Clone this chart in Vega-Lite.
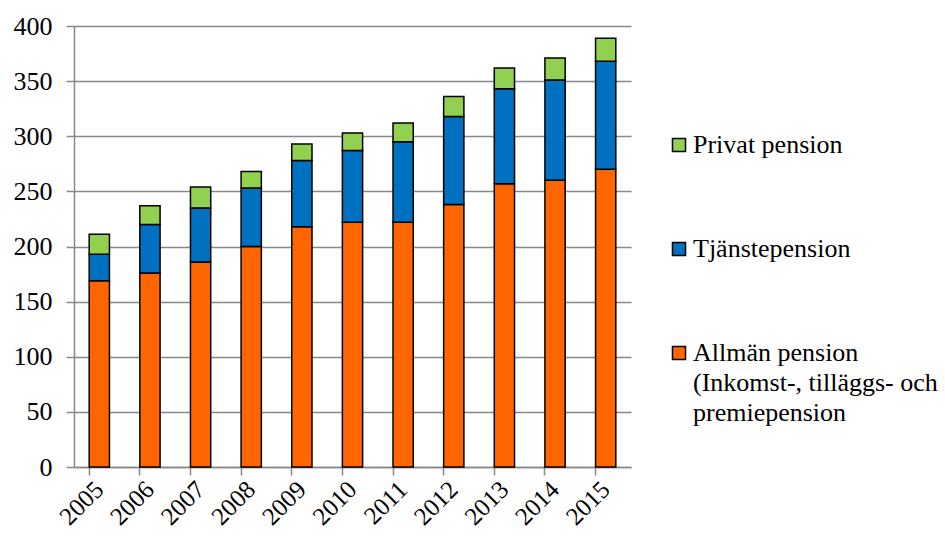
{
  "$schema": "https://vega.github.io/schema/vega-lite/v6.json",
  "width": 557,
  "height": 441,
  "autosize": "none",
  "padding": {"left": 74, "top": 26, "right": 314, "bottom": 69},
  "background": "white",
  "data": {
    "values": [
      {"year": "2005", "serie": "Allmän pension", "value": 169},
      {"year": "2005", "serie": "Tjänstepension", "value": 24},
      {"year": "2005", "serie": "Privat pension", "value": 18},
      {"year": "2006", "serie": "Allmän pension", "value": 176},
      {"year": "2006", "serie": "Tjänstepension", "value": 44},
      {"year": "2006", "serie": "Privat pension", "value": 17},
      {"year": "2007", "serie": "Allmän pension", "value": 186},
      {"year": "2007", "serie": "Tjänstepension", "value": 49},
      {"year": "2007", "serie": "Privat pension", "value": 19},
      {"year": "2008", "serie": "Allmän pension", "value": 200},
      {"year": "2008", "serie": "Tjänstepension", "value": 53},
      {"year": "2008", "serie": "Privat pension", "value": 15},
      {"year": "2009", "serie": "Allmän pension", "value": 218},
      {"year": "2009", "serie": "Tjänstepension", "value": 60},
      {"year": "2009", "serie": "Privat pension", "value": 15},
      {"year": "2010", "serie": "Allmän pension", "value": 222},
      {"year": "2010", "serie": "Tjänstepension", "value": 65},
      {"year": "2010", "serie": "Privat pension", "value": 16},
      {"year": "2011", "serie": "Allmän pension", "value": 222},
      {"year": "2011", "serie": "Tjänstepension", "value": 73},
      {"year": "2011", "serie": "Privat pension", "value": 17},
      {"year": "2012", "serie": "Allmän pension", "value": 238},
      {"year": "2012", "serie": "Tjänstepension", "value": 80},
      {"year": "2012", "serie": "Privat pension", "value": 18},
      {"year": "2013", "serie": "Allmän pension", "value": 257},
      {"year": "2013", "serie": "Tjänstepension", "value": 86},
      {"year": "2013", "serie": "Privat pension", "value": 19},
      {"year": "2014", "serie": "Allmän pension", "value": 260},
      {"year": "2014", "serie": "Tjänstepension", "value": 91},
      {"year": "2014", "serie": "Privat pension", "value": 20},
      {"year": "2015", "serie": "Allmän pension", "value": 270},
      {"year": "2015", "serie": "Tjänstepension", "value": 98},
      {"year": "2015", "serie": "Privat pension", "value": 21}
    ]
  },
  "transform": [
    {"calculate": "indexof(['Allmän pension','Tjänstepension','Privat pension'], datum.serie)", "as": "stackOrder"}
  ],
  "mark": {"type": "bar", "stroke": "black", "strokeWidth": 1.5},
  "encoding": {
    "x": {
      "field": "year",
      "type": "nominal",
      "scale": {"paddingInner": 0.6, "paddingOuter": 0.3},
      "axis": {
        "title": null,
        "labelFont": "Liberation Serif",
        "labelFontSize": 25,
        "labelColor": "black",
        "labelAngle": -45,
        "labelAlign": "right",
        "labelBaseline": "middle",
        "labelPadding": 10,
        "bandPosition": 0,
        "ticks": true,
        "tickSize": 8,
        "tickColor": "#888888",
        "tickWidth": 1.5,
        "domainColor": "#888888",
        "domainWidth": 1.5,
        "grid": false
      }
    },
    "y": {
      "field": "value",
      "type": "quantitative",
      "stack": "zero",
      "scale": {"domain": [0, 400], "nice": false},
      "axis": {
        "title": null,
        "labelFont": "Liberation Serif",
        "labelFontSize": 26,
        "labelColor": "black",
        "values": [0, 50, 100, 150, 200, 250, 300, 350, 400],
        "tickSize": 8,
        "tickColor": "#888888",
        "tickWidth": 1.5,
        "domainColor": "#888888",
        "domainWidth": 1.5,
        "gridColor": "#888888",
        "gridWidth": 1.5,
        "labelPadding": 14
      }
    },
    "color": {
      "field": "serie",
      "type": "nominal",
      "scale": {
        "domain": ["Privat pension", "Tjänstepension", "Allmän pension"],
        "range": ["#92D050", "#0070C0", "#FF6600"]
      },
      "legend": {
        "title": null,
        "orient": "none",
        "legendX": 592,
        "legendY": 106,
        "symbolType": "square",
        "symbolSize": 170,
        "symbolStrokeColor": "black",
        "symbolStrokeWidth": 1.5,
        "symbolOpacity": 1,
        "labelFont": "Liberation Serif",
        "labelFontSize": 26,
        "labelColor": "black",
        "labelOffset": 1,
        "labelLimit": 400,
        "rowPadding": 78,
        "labelExpr": "datum.label == 'Allmän pension' ? ['Allmän pension', '(Inkomst-, tilläggs- och', 'premiepension'] : datum.label"
      }
    },
    "order": {"field": "stackOrder", "type": "quantitative"}
  },
  "config": {
    "view": {"stroke": null},
    "font": "Liberation Serif",
    "style": {"guide-label": {"lineHeight": 30}}
  }
}
